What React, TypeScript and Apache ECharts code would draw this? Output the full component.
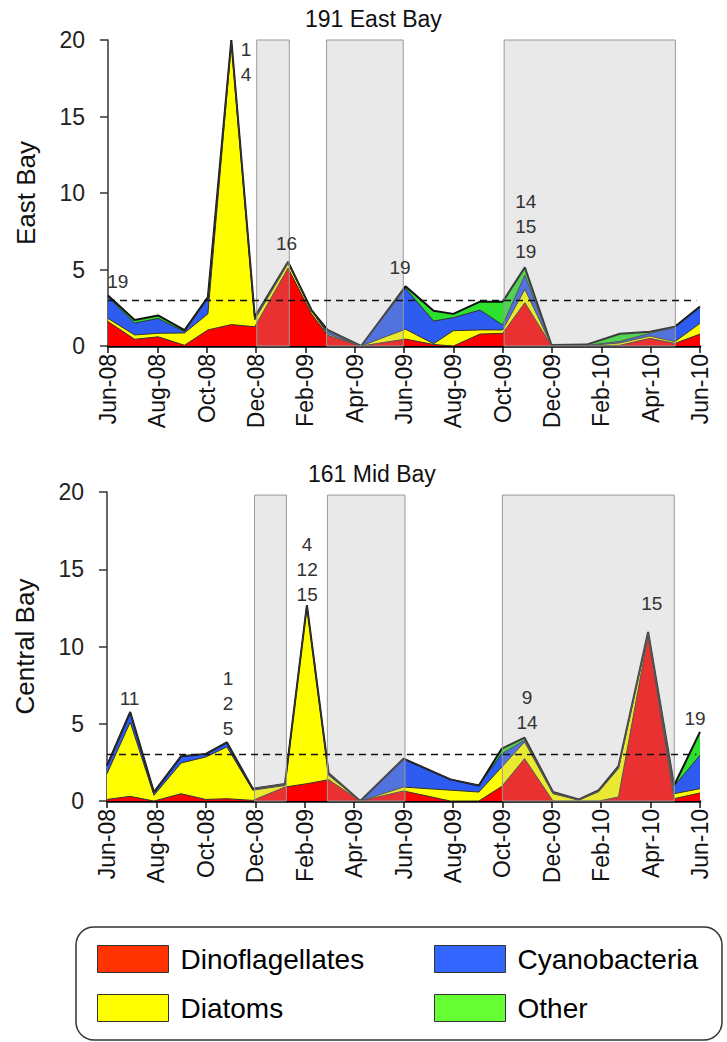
import React, { useEffect, useRef } from "react";
import * as echarts from "echarts";

const FONT = "'Liberation Sans', Arial, sans-serif";

// x positions are months since Jun-08
const tickLabels = [
  "Jun-08", "Aug-08", "Oct-08", "Dec-08", "Feb-09", "Apr-09", "Jun-09",
  "Aug-09", "Oct-09", "Dec-09", "Feb-10", "Apr-10", "Jun-10",
];

const layerNames = ["Dinoflagellates", "Diatoms", "Cyanobacteria", "Other"];
const layerColors = ["#FF0000", "#FFFF00", "#2E5BF0", "#2EE02E"];
const legendColors = ["#FF3300", "#FFFF00", "#3366FF", "#66FF33"];

// ---------- 191 East Bay ----------
const eastT = [0, 1.08, 2.03, 3.1, 4.05, 5.0, 5.95, 7.3, 8.25, 8.9, 10.26, 12.06, 13.2, 14.0, 15.08, 16.0, 16.9, 17.98, 19.4, 20.75, 21.97, 22.98, 24.0];
const eastDino = [1.6, 0.44, 0.6, 0.05, 1.05, 1.4, 1.26, 5.1, 2.1, 0.7, 0, 0.45, 0.1, 0, 0.78, 0.83, 2.83, 0.02, 0, 0.05, 0.5, 0.17, 0.78];
const eastDiatom = [0.2, 0.28, 0.23, 0.8, 1.05, 18.4, 0.45, 0.3, 0.2, 0.1, 0, 0.65, 0.05, 1.0, 0.27, 0.22, 0.87, 0.02, 0.02, 0.15, 0.15, 0.11, 0.7];
const eastCyano = [1.4, 0.78, 0.97, 0.08, 1.0, 0.1, 0.1, 0.05, 0.05, 0.2, 0, 2.67, 1.48, 0.85, 1.3, 0.32, 0.94, 0.01, 0.02, 0.1, 0.18, 0.94, 1.05];
const eastOther = [0.1, 0.2, 0.2, 0.1, 0.1, 0.1, 0.09, 0.05, 0, 0.05, 0, 0.13, 0.67, 0.25, 0.55, 1.53, 0.5, 0.01, 0.05, 0.5, 0.1, 0.04, 0.05];
const eastShade = [[6.03, 7.35], [8.86, 11.97], [16.06, 23.0]];
const eastShadeTop = 20;
const eastNotes = [
  { x: 0.4, y: 4.2, t: "19" },
  { x: 5.6, y: 18.55, t: "1\n4" },
  { x: 7.24, y: 6.73, t: "16" },
  { x: 11.84, y: 5.1, t: "19" },
  { x: 16.94, y: 7.84, t: "14\n15\n19" },
];

// ---------- 161 Mid Bay ----------
const midT = [0, 0.94, 1.9, 3.0, 4.0, 4.85, 5.9, 7.2, 8.09, 8.97, 10.25, 12.0, 13.9, 15.05, 15.98, 16.9, 18.05, 19.1, 19.9, 20.7, 21.9, 22.95, 24.0];
const midDino = [0.1, 0.3, 0, 0.47, 0.1, 0.15, 0.04, 0.9, 1.12, 1.38, 0, 0.65, 0, 0, 0.95, 2.74, 0, 0, 0, 0.26, 10.72, 0.15, 0.52];
const midDiatom = [1.67, 4.8, 0.37, 1.99, 2.75, 3.35, 0.66, 0.1, 11.5, 0.28, 0, 0.25, 0.7, 0.58, 1.25, 1.08, 0.47, 0.05, 0.6, 1.84, 0.12, 0.32, 0.28];
const midCyano = [0.53, 0.66, 0.2, 0.44, 0.2, 0.3, 0.1, 0.1, 0.05, 0.12, 0, 1.84, 0.7, 0.42, 0.86, 0.11, 0.05, 0.02, 0.05, 0.05, 0.05, 0.48, 2.16];
const midOther = [0, 0, 0, 0, 0, 0, 0, 0, 0, 0.02, 0, 0, 0, 0, 0.33, 0.17, 0.06, 0.03, 0.05, 0.1, 0.05, 0.05, 1.51];
const midShade = [[5.97, 7.26], [8.92, 12.06], [16.0, 22.96]];
const midShadeTop = 19.8;
const midNotes = [
  { x: 0.91, y: 6.65, t: "11" },
  { x: 4.9, y: 6.32, t: "1\n2\n5" },
  { x: 8.1, y: 15.0, t: "4\n12\n15" },
  { x: 17.0, y: 5.9, t: "9\n14" },
  { x: 22.05, y: 12.8, t: "15" },
  { x: 23.8, y: 5.36, t: "19" },
];

const threshold = 3;

function buildPanel(g: number, t: number[], layers: number[][], shade: number[][], shadeTop: number, notes: any[]) {
  // cumulative tops
  const cum: number[][] = [];
  layers.forEach((vals, li) => {
    cum.push(vals.map((v, i) => v + (li > 0 ? cum[li - 1][i] : 0)));
  });
  const series: any[] = [];
  // draw from total down so lower layers paint over
  for (let li = layers.length - 1; li >= 0; li--) {
    series.push({
      type: "line",
      name: layerNames[li],
      xAxisIndex: g,
      yAxisIndex: g,
      data: t.map((x, i) => [x, +cum[li][i].toFixed(3)]),
      symbol: "none",
      showSymbol: false,
      silent: true,
      z: 3,
      lineStyle: li === layers.length - 1 ? { color: "#111", width: 2 } : { color: "#333", width: 1 },
      areaStyle: { color: layerColors[li], opacity: 1 },
      itemStyle: { color: layerColors[li] },
    });
  }
  series.push({
    type: "line",
    name: "marks" + g,
    xAxisIndex: g,
    yAxisIndex: g,
    data: [],
    silent: true,
    z: 6,
    markArea: {
      silent: true,
      z: 6,
      itemStyle: { color: "rgba(175,175,175,0.28)", borderColor: "#9a9a9a", borderWidth: 1 },
      label: { show: false },
      data: shade.map(([a, b]) => [{ coord: [a, 0] }, { coord: [b, shadeTop] }]),
    },
    markLine: {
      silent: true,
      z: 7,
      symbol: ["none", "none"],
      label: { show: false },
      lineStyle: { color: "#111", width: 1.3, type: [7, 5] },
      data: [[{ coord: [0, threshold] }, { coord: [23.85, threshold] }]],
    },
    markPoint: {
      silent: true,
      z: 8,
      symbol: "rect",
      symbolSize: 1,
      itemStyle: { color: "rgba(0,0,0,0)" },
      label: {
        show: true,
        position: "inside",
        formatter: (p: any) => p.name,
        fontFamily: FONT,
        fontSize: 19,
        lineHeight: 25,
        color: "#333",
        align: "center",
      },
      data: notes.map((n) => ({ name: n.t, coord: [n.x, n.y] })),
    },
  });
  return series;
}

function axisPair(g: number, name: string) {
  const xAxis = {
    type: "value",
    gridIndex: g,
    min: 0,
    max: 24,
    interval: 2,
    axisLine: { show: true, lineStyle: { color: "#000", width: 2.5 } },
    axisTick: { show: true, length: 7, lineStyle: { color: "#111", width: 1.5 } },
    splitLine: { show: false },
    axisLabel: {
      rotate: 90,
      margin: 8,
      fontFamily: FONT,
      fontSize: 23,
      color: "#111",
      formatter: (v: number) => tickLabels[Math.round(v / 2)] ?? "",
    },
  };
  const yAxis = {
    type: "value",
    gridIndex: g,
    min: 0,
    max: 20,
    interval: 5,
    name,
    nameLocation: "middle",
    nameGap: 69,
    nameTextStyle: { fontFamily: FONT, fontSize: 26, color: "#111" },
    axisLine: { show: true, lineStyle: { color: "#333", width: 1.5 } },
    axisTick: { show: true, length: 8, lineStyle: { color: "#333", width: 1.5 } },
    splitLine: { show: false },
    axisLabel: { margin: 23, fontFamily: FONT, fontSize: 23, color: "#222" },
  };
  return { xAxis, yAxis };
}

export default function App() {
  const ref = useRef<HTMLDivElement>(null);
  useEffect(() => {
    if (!ref.current) return;
    const chart = echarts.init(ref.current, undefined, { renderer: "svg" });
    const a0 = axisPair(0, "East Bay");
    const a1 = axisPair(1, "Central Bay");
    const legendItem = (i: number) => ({
      name: layerNames[i],
      itemStyle: { color: legendColors[i], borderColor: "#333", borderWidth: 1 },
    });
    const legendCommon = {
      orient: "vertical",
      top: 945,
      padding: 0,
      itemWidth: 71,
      itemHeight: 27,
      itemGap: 21,
      icon: "rect",
      selectedMode: false,
      textStyle: { fontFamily: FONT, fontSize: 28, color: "#000", padding: [0, 0, 0, 7] },
    };
    chart.setOption({
      animation: false,
      backgroundColor: "#fff",
      title: [
        { text: "191 East Bay", left: 305, top: 7, padding: 0, textStyle: { fontFamily: FONT, fontSize: 23, fontWeight: "normal", color: "#111" } },
        { text: "161 Mid Bay", left: 308, top: 462, padding: 0, textStyle: { fontFamily: FONT, fontSize: 23, fontWeight: "normal", color: "#111" } },
      ],
      grid: [
        { left: 108, top: 40, width: 592, height: 306 },
        { left: 107, top: 492, width: 593, height: 309 },
      ],
      xAxis: [a0.xAxis, a1.xAxis],
      yAxis: [a0.yAxis, a1.yAxis],
      legend: [
        { ...legendCommon, left: 97, data: [legendItem(0), legendItem(1)] },
        { ...legendCommon, left: 434, data: [legendItem(2), legendItem(3)] },
      ],
      graphic: [
        {
          type: "rect",
          shape: { x: 76, y: 927, width: 646, height: 113, r: 18 },
          style: { fill: "none", stroke: "#333", lineWidth: 1.5 },
          silent: true,
        },
      ],
      series: [
        ...buildPanel(0, eastT, [eastDino, eastDiatom, eastCyano, eastOther], eastShade, eastShadeTop, eastNotes),
        ...buildPanel(1, midT, [midDino, midDiatom, midCyano, midOther], midShade, midShadeTop, midNotes),
      ],
    });
    return () => chart.dispose();
  }, []);
  return <div ref={ref} style={{ position: "absolute", left: 0, top: 0, width: 727, height: 1042 }} />;
}
